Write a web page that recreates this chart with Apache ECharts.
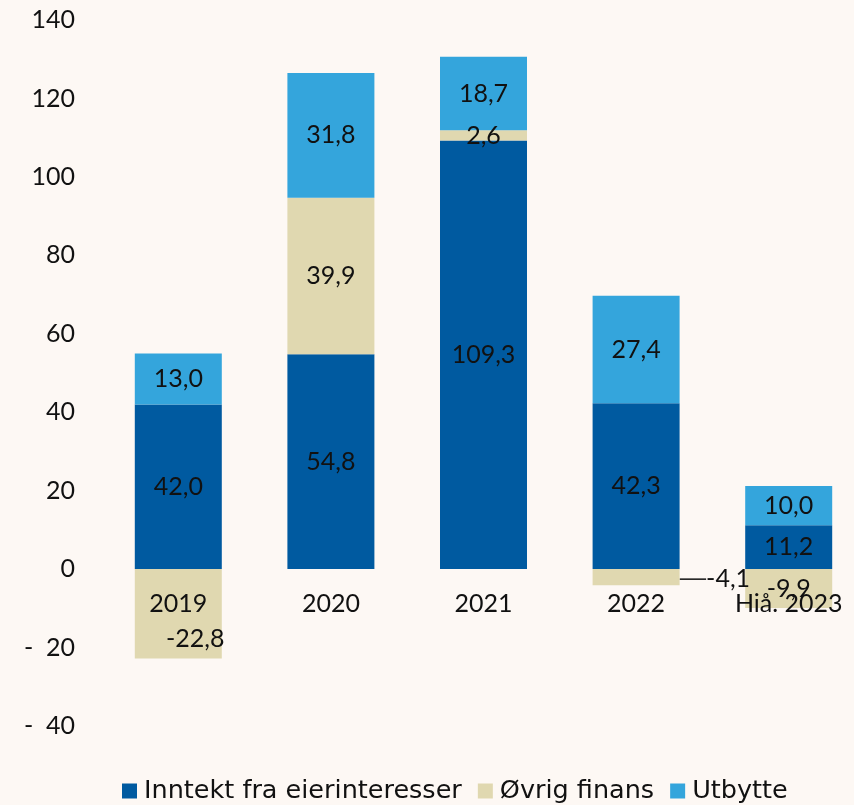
<!DOCTYPE html>
<html>
<head>
<meta charset="utf-8">
<script src="https://cdn.jsdelivr.net/npm/echarts@6/dist/echarts.min.js"></script>
<style>
  html, body { margin: 0; padding: 0; background: #fdf8f4; }
  #chart { width: 854px; height: 805px; }
</style>
</head>
<body>
<div id="chart"></div>
<script>
const years = ["2019", "2020", "2021", "2022", "Hiå. 2023"];
const inntekt = [42.0, 54.8, 109.3, 42.3, 11.2];
const ovrig = [-22.8, 39.9, 2.6, -4.1, -9.9];
const utbytte = [13.0, 31.8, 18.7, 27.4, 10.0];

const font = "Lato, 'Open Sans', sans-serif";
const fmt = p => p.value.toFixed(1).replace(".", ",");

const chart = echarts.init(document.getElementById("chart"));

function lbl() {
  return { show: true, position: "inside", color: "#111", fontSize: 25, fontFamily: font, formatter: fmt };
}

chart.setOption({
  backgroundColor: "#fdf8f4",
  animation: false,
  grid: { left: 102, right: -11, top: 20, bottom: 79, outerBoundsMode: "none" },
  legend: {
    top: 773,
    left: 117,
    itemWidth: 15,
    itemHeight: 15,
    itemGap: 16,
    icon: "rect",
    textStyle: { fontSize: 25.5, color: "#111", fontFamily: "'DejaVu Sans', sans-serif", padding: [0, 0, 0, 2] },
    data: ["Inntekt fra eierinteresser", "Øvrig finans", "Utbytte"]
  },
  xAxis: {
    type: "category",
    data: years,
    z: 10,
    offset: -157,
    axisLine: { show: false, onZero: false },
    axisTick: { show: false },
    axisLabel: { fontSize: 25, color: "#111", fontFamily: font, margin: 22 }
  },
  yAxis: {
    type: "value",
    min: -40,
    max: 140,
    interval: 20,
    splitLine: { show: false },
    axisLine: { show: false },
    axisTick: { show: false },
    axisLabel: {
      fontSize: 25, color: "#111", fontFamily: font, margin: 27,
      formatter: v => v < 0 ? "-  " + Math.abs(v) : String(v)
    }
  },
  series: [
    {
      name: "Inntekt fra eierinteresser",
      type: "bar",
      stack: "a",
      barWidth: 87,
      itemStyle: { color: "#005aa0" },
      label: lbl(),
      data: inntekt
    },
    {
      name: "Øvrig finans",
      type: "bar",
      stack: "a",
      barWidth: 87,
      itemStyle: { color: "#e0d8b0" },
      label: lbl(),
      labelLine: { show: true, lineStyle: { color: "#111", width: 1.5 } },
      labelLayout: function (p) {
        if (p.dataIndex === 0) return { dx: 17, dy: 25 };
        if (p.dataIndex === 3) return { dx: 92, dy: 2 };
        if (p.dataIndex === 2) return { dy: 1 };
      },
      data: ovrig
    },
    {
      name: "Utbytte",
      type: "bar",
      stack: "a",
      barWidth: 87,
      itemStyle: { color: "#34a5dc" },
      label: lbl(),
      data: utbytte
    }
  ]
});
</script>
</body>
</html>
